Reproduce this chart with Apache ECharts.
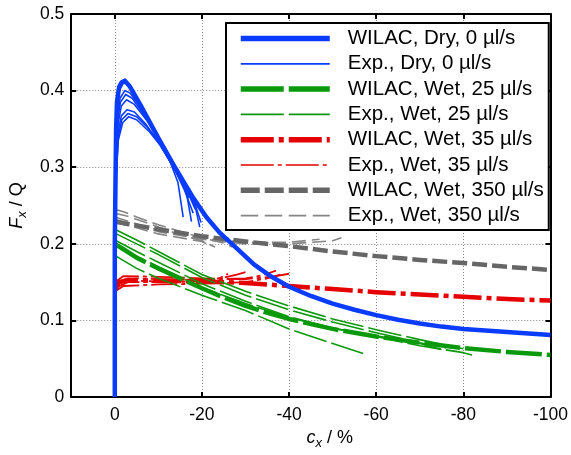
<!DOCTYPE html>
<html>
<head>
<meta charset="utf-8">
<script src="https://cdn.jsdelivr.net/npm/echarts@6/dist/echarts.min.js"></script>
<style>html,body{margin:0;padding:0;background:#fff;}#c{width:571px;height:455px;}</style>
</head>
<body>
<div id="c"></div>
<script>
// ---- axis ranges / ticks ----
const xRange = [-100, 10];
const xStep = 20;
const yRange = [0, 0.5];
const yStep = 0.1;

// ---- legend names ----
const legendNames = [
  'WILAC, Dry, 0 \u00b5l/s', 'Exp., Dry, 0 \u00b5l/s',
  'WILAC, Wet, 25 \u00b5l/s', 'Exp., Wet, 25 \u00b5l/s',
  'WILAC, Wet, 35 \u00b5l/s', 'Exp., Wet, 35 \u00b5l/s',
  'WILAC, Wet, 350 \u00b5l/s', 'Exp., Wet, 350 \u00b5l/s'
];

// ---- WILAC model curves [c_x %, F_x/Q] ----
const wilacDry = [[0,0],[0,0.1],[0,0.2],[-0.1,0.25],[-0.3,0.35],[-0.5,0.385],[-1,0.405],[-1.6,0.411],[-2.3,0.413],[-3.5,0.405],[-6,0.38],[-10,0.338],[-14,0.298],[-18,0.26],[-21,0.235],[-24,0.215],[-28,0.194],[-32,0.173],[-36,0.157],[-40,0.144],[-45,0.132],[-50,0.122],[-55,0.114],[-60,0.107],[-65,0.101],[-70,0.096],[-75,0.092],[-80,0.089],[-85,0.087],[-90,0.085],[-100,0.081]];
const wilacWet25 = [[0,0.2],[-2,0.193],[-5,0.182],[-10,0.168],[-15,0.155],[-20,0.142],[-25,0.13],[-30,0.119],[-35,0.11],[-40,0.102],[-50,0.089],[-60,0.079],[-70,0.071],[-80,0.064],[-90,0.059],[-100,0.055]];
const wilacWet35 = [[0,0.14],[-1,0.15],[-3,0.153],[-10,0.152],[-20,0.151],[-30,0.149],[-40,0.145],[-50,0.141],[-60,0.137],[-70,0.134],[-80,0.131],[-90,0.128],[-100,0.126]];
const wilacWet350 = [[0,0.229],[-5,0.224],[-10,0.219],[-20,0.21],[-30,0.203],[-40,0.197],[-50,0.19],[-60,0.184],[-70,0.179],[-80,0.175],[-90,0.17],[-100,0.166]];

// ---- experimental curves ----
const expDry1 = [[0,0],[0,0.2],[-0.2,0.3],[-0.5,0.37],[-1,0.4],[-2,0.41],[-3,0.408],[-5,0.39],[-8,0.36],[-11,0.33],[-14,0.3],[-16.5,0.272],[-18.5,0.248],[-19.5,0.222]];
const expDry2 = [[0,0],[0,0.2],[-0.2,0.3],[-0.6,0.365],[-1.2,0.39],[-2.3,0.4],[-3.5,0.397],[-6,0.378],[-9,0.35],[-12,0.32],[-14.5,0.292],[-16.5,0.265],[-17.6,0.229]];
const expDry3 = [[0,0],[0,0.2],[-0.2,0.29],[-0.6,0.36],[-1.3,0.385],[-2.5,0.395],[-4,0.39],[-7,0.366],[-10,0.337],[-12.5,0.31],[-14.5,0.28],[-15.7,0.235]];
const expDry4 = [[0,0],[0,0.2],[-0.2,0.29],[-0.7,0.355],[-1.5,0.38],[-2.7,0.388],[-4.5,0.382],[-7.5,0.36],[-10.5,0.332],[-13.5,0.3],[-16,0.27],[-18,0.24]];
const expDry5 = [[0,0],[0,0.2],[-0.2,0.28],[-0.7,0.345],[-1.5,0.367],[-2.8,0.375],[-4.5,0.372],[-7,0.357],[-10,0.333],[-13,0.305],[-16,0.276],[-18.5,0.25],[-19.8,0.228]];
const expDry6 = [[0,0],[0,0.2],[-0.2,0.28],[-0.8,0.34],[-1.6,0.362],[-3,0.37],[-5,0.366],[-7.5,0.352],[-10,0.333],[-13,0.305],[-15.5,0.28],[-17,0.26]];
const expDry7 = [[0,0],[0,0.2],[-0.2,0.275],[-0.8,0.335],[-1.8,0.358],[-3.2,0.366],[-5,0.362],[-8,0.346],[-10.5,0.328],[-13.5,0.3],[-16.5,0.27],[-18.5,0.245]];

const expWet25a = [[0,0.219],[-5,0.205],[-10,0.19],[-20,0.16],[-30,0.138],[-40,0.119],[-50,0.102],[-60,0.088],[-70,0.075],[-80,0.063]];
const expWet25b = [[0,0.214],[-5,0.2],[-10,0.186],[-20,0.156],[-30,0.133],[-40,0.114],[-50,0.098],[-60,0.084],[-70,0.071],[-76,0.064]];
const expWet25c = [[0,0.205],[-5,0.19],[-10,0.176],[-20,0.148],[-30,0.125],[-40,0.105],[-50,0.09],[-60,0.079],[-70,0.067],[-80,0.058],[-82,0.055]];
const expWet25d = [[0,0.185],[-5,0.168],[-10,0.155],[-20,0.133],[-30,0.113],[-40,0.089],[-50,0.07],[-57,0.057]];
const expWet25e = [[0,0.198],[-10,0.17],[-20,0.143],[-30,0.122],[-40,0.104],[-50,0.09],[-60,0.08],[-70,0.07],[-75,0.062]];

const expWet35a = [[0,0.14],[-1,0.148],[-3,0.152],[-10,0.151],[-20,0.152],[-25,0.156],[-28,0.16],[-30,0.163]];
const expWet35b = [[0,0.145],[-2,0.153],[-5,0.155],[-10,0.154],[-20,0.153],[-30,0.155],[-34,0.159],[-37,0.165]];
const expWet35c = [[0,0.15],[-2,0.158],[-10,0.157],[-20,0.155],[-30,0.154],[-36,0.157],[-40,0.161]];
const expWet35d = [[0,0.138],[-2,0.145],[-10,0.147],[-20,0.148],[-30,0.15],[-35,0.155],[-38,0.16]];
const expWet35e = [[0,0.142],[-3,0.15],[-12,0.15],[-20,0.151],[-24,0.155],[-26,0.161]];

const expWet350a = [[0,0.245],[-2,0.242],[-5,0.235],[-10,0.225],[-15,0.216],[-20,0.208],[-25,0.201],[-27,0.196]];
const expWet350b = [[0,0.24],[-3,0.236],[-10,0.222],[-15,0.212],[-20,0.204],[-23,0.196]];
const expWet350c = [[0,0.235],[-5,0.226],[-10,0.218],[-20,0.207],[-30,0.202],[-40,0.202],[-47,0.206]];
const expWet350d = [[0,0.232],[-5,0.224],[-10,0.216],[-20,0.206],[-30,0.2],[-40,0.2],[-50,0.204],[-52,0.208]];
const expWet350e = [[0,0.228],[-5,0.221],[-10,0.213],[-20,0.203],[-22,0.198]];

// ---- styles ----
const BLUE = '#0a3cff', GREEN = '#0a990a', RED = '#e60000', GRAY = '#666666', LGRAY = '#858585';
const FONT = 'Liberation Sans, Arial, sans-serif';

function line(name, data, color, width, type, z) {
  return {
    name: name, type: 'line', data: data, symbol: 'none', showSymbol: false,
    animation: false, silent: true, z: z, xAxisIndex: 0, yAxisIndex: 0,
    lineStyle: { color: color, width: width, type: type, cap: 'butt', join: 'round' },
    itemStyle: { color: color }
  };
}

const series = [];
[expWet350a, expWet350b, expWet350c, expWet350d, expWet350e].forEach(d => series.push(line(legendNames[7], d, LGRAY, 1.6, [14, 6], 2)));
series.push(line(legendNames[6], wilacWet350, GRAY, 4.5, [15, 5], 3));
[expWet35a, expWet35b, expWet35c, expWet35d, expWet35e].forEach(d => series.push(line(legendNames[5], d, RED, 1.8, [26, 4, 4, 4], 4)));
series.push(line(legendNames[4], wilacWet35, RED, 4.5, [28, 5, 5, 5], 5));
[expWet25a, expWet25b, expWet25c, expWet25d, expWet25e].forEach(d => series.push(line(legendNames[3], d, GREEN, 1.6, [34, 5], 6)));
series.push(line(legendNames[2], wilacWet25, GREEN, 4.5, [36, 5], 7));
[expDry1, expDry2, expDry3, expDry4, expDry5, expDry6, expDry7].forEach(d => series.push(line(legendNames[1], d, BLUE, 1.6, 'solid', 8)));
series.push(line(legendNames[0], wilacDry, BLUE, 4.5, 'solid', 9));

const legendStyles = [
  { width: 5.5, type: 'solid' },
  { width: 1.7, type: 'solid' },
  { width: 5.5, type: [43, 5] },
  { width: 1.7, type: [43, 5] },
  { width: 5.5, type: [33, 5, 5, 5] },
  { width: 1.7, type: [33, 4, 4, 4] },
  { width: 5.5, type: [19, 5] },
  { width: 1.7, type: [17.5, 6.5] }
];

const chart = echarts.init(document.getElementById('c'), null, { renderer: 'canvas' });
chart.setOption({
  backgroundColor: '#ffffff',
  animation: false,
  textStyle: { fontFamily: FONT },
  grid: { left: 64, right: 16, top: 14, bottom: 48, containLabel: false },
  legend: {
    orient: 'vertical', left: 226, top: 23,
    itemWidth: 89, itemHeight: 20, itemGap: 4.3,
    padding: [5, 5, 4, 12],
    backgroundColor: '#ffffff', borderColor: '#000000', borderWidth: 2, borderRadius: 0,
    selectedMode: false,
    itemStyle: { opacity: 0, borderWidth: 0 },
    textStyle: { fontSize: 20.5, color: '#000', fontFamily: FONT, padding: [0, 0, 0, 13], lineHeight: 20 },
    data: legendNames.map((n, i) => ({ name: n, lineStyle: legendStyles[i], itemStyle: { opacity: 0, borderWidth: 0 } })),
    z: 20
  },
  xAxis: [{
    type: 'value', min: xRange[0], max: xRange[1], interval: xStep, inverse: true,
    position: 'bottom',
    name: '{i|c}{s|x}{n| / %}', nameLocation: 'middle', nameGap: 27,
    nameTextStyle: {
      padding: [0, 0, 0, 38],
      rich: {
        i: { fontSize: 18, fontStyle: 'italic', fontFamily: FONT, color: '#000', lineHeight: 24 },
        s: { fontSize: 13, fontStyle: 'italic', fontFamily: FONT, color: '#000', lineHeight: 13, verticalAlign: 'bottom' },
        n: { fontSize: 18, fontFamily: FONT, color: '#000', lineHeight: 24 }
      }
    },
    axisLine: { show: true, onZero: false, lineStyle: { color: '#000', width: 2 } },
    axisTick: { show: true, inside: true, length: 5, lineStyle: { color: '#000', width: 2 } },
    axisLabel: { fontSize: 17.5, color: '#000', fontFamily: FONT, margin: 9, showMaxLabel: false,
      formatter: v => (v > 0 ? '' : String(v)) },
    splitLine: { show: true, lineStyle: { color: '#888', width: 1, type: [1, 2] } }
  }, {
    type: 'value', min: xRange[0], max: xRange[1], interval: xStep, inverse: true,
    position: 'top',
    axisLine: { show: true, onZero: false, lineStyle: { color: '#000', width: 2 } },
    axisTick: { show: true, inside: true, length: 5, lineStyle: { color: '#000', width: 2 } },
    axisLabel: { show: false }, splitLine: { show: false }
  }],
  yAxis: [{
    type: 'value', min: yRange[0], max: yRange[1], interval: yStep,
    position: 'left',
    name: '{i|F}{s|x}{n| / Q}', nameLocation: 'middle', nameGap: 28, nameRotate: 90,
    nameTextStyle: {
      rich: {
        i: { fontSize: 18, fontStyle: 'italic', fontFamily: FONT, color: '#000', lineHeight: 24 },
        s: { fontSize: 13, fontStyle: 'italic', fontFamily: FONT, color: '#000', lineHeight: 13, verticalAlign: 'bottom' },
        n: { fontSize: 18, fontFamily: FONT, color: '#000', lineHeight: 24 }
      }
    },
    axisLine: { show: true, onZero: false, lineStyle: { color: '#000', width: 2 } },
    axisTick: { show: true, inside: true, length: 5, lineStyle: { color: '#000', width: 2 } },
    axisLabel: { fontSize: 17.5, color: '#000', fontFamily: FONT, margin: 7 },
    splitLine: { show: true, lineStyle: { color: '#888', width: 1, type: [1, 2] } }
  }, {
    type: 'value', min: yRange[0], max: yRange[1], interval: yStep,
    position: 'right',
    axisLine: { show: true, onZero: false, lineStyle: { color: '#000', width: 2 } },
    axisTick: { show: true, inside: true, length: 5, lineStyle: { color: '#000', width: 2 } },
    axisLabel: { show: false }, splitLine: { show: false }
  }],
  series: series
});
</script>
</body>
</html>
